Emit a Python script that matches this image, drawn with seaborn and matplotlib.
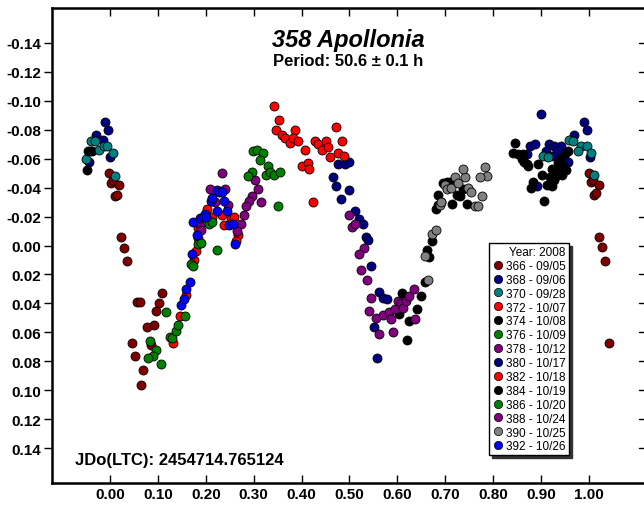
import matplotlib
matplotlib.use("Agg")
import matplotlib.pyplot as plt
from matplotlib.lines import Line2D
import seaborn as sns
import pandas as pd

# Session numbers, observing dates (2008) and marker colours
sessions = ["366", "368", "370", "372", "374", "376", "378",
            "380", "382", "384", "386", "388", "390", "392"]
dates = ["09/05", "09/06", "09/28", "10/07", "10/08", "10/09", "10/12",
         "10/17", "10/18", "10/19", "10/20", "10/24", "10/25", "10/26"]
colors = ["#800000", "#000080", "#008080", "#ff0000", "#000000", "#008000", "#800080",
          "#000080", "#ff0000", "#000000", "#008000", "#800080", "#808080", "#0000ff"]

# Phased photometry (phase, differential magnitude) for each session
phase_366 = [-0.001, 0.002, 0.007, 0.010, 0.015, 0.019, 0.023, 0.029, 0.036,
             0.108, 0.057, 0.062, 0.103, 0.097, 0.078, 0.092, 0.045, 0.086, 0.052, 0.070, 0.065,
             1.000, 1.004, 1.009, 1.020, 1.011, 1.015, 1.022, 1.028, 1.034, 1.042]
mag_366 = [-0.050, -0.043, -0.045, -0.034, -0.035, -0.042, -0.006, 0.002, 0.011,
           0.033, 0.039, 0.039, 0.040, 0.045, 0.056, 0.055, 0.067, 0.069, 0.076, 0.086, 0.096,
           -0.050, -0.044, -0.045, -0.042, -0.035, -0.036, -0.006, 0.001, 0.011, 0.067]

phase_368 = [-0.044, -0.037, -0.030, -0.015, -0.010, -0.005, 0.001,
             0.899, 0.990, 0.995, 0.969, 0.877, 0.888, 0.917, 0.928, 0.941, 0.910,
             0.933, 0.925, 0.957, 1.002, 0.891, 0.870]
mag_368 = [-0.058, -0.065, -0.076, -0.073, -0.085, -0.080, -0.061,
           -0.091, -0.085, -0.080, -0.076, -0.069, -0.070, -0.070, -0.069, -0.069, -0.065,
           -0.065, -0.062, -0.058, -0.061, -0.041, -0.063]

phase_370 = [-0.049, -0.040, -0.031, -0.023, -0.013, -0.006, 0.006, 0.011,
             0.959, 0.967, 0.983, 0.995, 0.978, 1.004, 0.905, 0.914, 0.939, 0.927, 1.010]
mag_370 = [-0.060, -0.072, -0.072, -0.066, -0.069, -0.069, -0.064, -0.048,
           -0.073, -0.072, -0.069, -0.069, -0.065, -0.064, -0.062, -0.061, -0.059, -0.051, -0.049]

phase_372 = [0.132, 0.146, 0.159, 0.175, 0.180, 0.184, 0.183, 0.203, 0.212,
             0.233, 0.238, 0.252, 0.260, 0.268, 0.264]
mag_372 = [0.067, 0.049, 0.034, 0.010, 0.004, -0.005, -0.012, -0.025, -0.020,
           -0.021, -0.014, -0.018, -0.020, -0.007, -0.003]

phase_374 = [-0.047, -0.045, -0.042,
             0.846, 0.842, 0.852, 0.860, 0.864, 0.870, 0.873, 0.863, 0.894, 0.901,
             0.884, 0.880, 0.907, 0.912, 0.922, 0.919, 0.927, 0.929, 0.922, 0.934,
             0.939, 0.938, 0.943, 0.953, 0.946, 0.939, 0.950, 0.957, 0.936]
mag_374 = [-0.052, -0.065, -0.065,
           -0.071, -0.064, -0.063, -0.060, -0.058, -0.056, -0.055, -0.063, -0.056, -0.049,
           -0.044, -0.040, -0.031, -0.042, -0.041, -0.047, -0.045, -0.047, -0.053, -0.053,
           -0.053, -0.050, -0.049, -0.052, -0.055, -0.060, -0.063, -0.065, -0.057]

phase_376 = [0.117, 0.084, 0.097, 0.090, 0.079, 0.106, 0.125, 0.130, 0.137, 0.143,
             0.156, 0.169, 0.173, 0.183, 0.190, 0.206, 0.212, 0.224]
mag_376 = [0.046, 0.066, 0.072, 0.076, 0.078, 0.082, 0.063, 0.064, 0.059, 0.055,
           0.049, 0.013, 0.014, -0.001, -0.002, -0.015, -0.016, 0.003]

phase_378 = [0.233, 0.209, 0.241, 0.303, 0.310, 0.296, 0.291, 0.316, 0.285,
             0.279, 0.273, 0.266, 0.247, 0.219, 0.188, 0.191]
mag_378 = [-0.050, -0.039, -0.039, -0.045, -0.039, -0.034, -0.031, -0.030, -0.027,
           -0.021, -0.015, -0.010, -0.028, -0.030, -0.014, -0.011]

phase_380 = [0.476, 0.490, 0.498, 0.466, 0.472, 0.483, 0.500, 0.511, 0.520,
             0.528, 0.534, 0.539, 0.545, 0.561, 0.570, 0.578, 0.551, 0.557]
mag_380 = [-0.056, -0.056, -0.058, -0.047, -0.041, -0.032, -0.038, -0.024, -0.018,
           -0.015, -0.006, -0.004, 0.014, 0.032, 0.036, 0.037, 0.056, 0.078]

phase_382 = [0.343, 0.353, 0.347, 0.387, 0.360, 0.365, 0.376, 0.383, 0.393, 0.407,
             0.401, 0.414, 0.415, 0.423, 0.429, 0.435, 0.442, 0.451, 0.456, 0.460,
             0.472, 0.485, 0.477, 0.489]
mag_382 = [-0.096, -0.087, -0.080, -0.080, -0.076, -0.074, -0.071, -0.074, -0.072, -0.066,
           -0.055, -0.057, -0.053, -0.030, -0.072, -0.070, -0.066, -0.072, -0.068, -0.061,
           -0.082, -0.072, -0.064, -0.062]

phase_384 = [0.610, 0.603, 0.650, 0.642, 0.625, 0.621, 0.658, 0.661, 0.667, 0.673,
             0.681, 0.692, 0.685, 0.696, 0.703, 0.710, 0.715, 0.724, 0.731, 0.738,
             0.745, 0.685]
mag_384 = [0.033, 0.047, 0.035, 0.044, 0.052, 0.065, 0.025, 0.003, 0.008, -0.003,
           -0.025, -0.030, -0.035, -0.043, -0.044, -0.044, -0.029, -0.035, -0.034, -0.039,
           -0.029, -0.028]

phase_386 = [0.299, 0.308, 0.319, 0.313, 0.329, 0.296, 0.289, 0.325, 0.335, 0.342,
             0.355, 0.350]
mag_386 = [-0.065, -0.066, -0.064, -0.059, -0.055, -0.051, -0.048, -0.049, -0.051, -0.049,
           -0.051, -0.027]

phase_388 = [0.499, 0.505, 0.511, 0.530, 0.519, 0.525, 0.536, 0.546, 0.541, 0.556,
             0.571, 0.582, 0.587, 0.562, 0.591, 0.596, 0.602, 0.608, 0.612, 0.618,
             0.624, 0.634, 0.637]
mag_388 = [-0.021, -0.013, -0.015, 0.002, 0.006, 0.017, 0.024, 0.036, 0.045, 0.050,
           0.048, 0.046, 0.051, 0.061, 0.060, 0.044, 0.038, 0.040, 0.043, 0.038,
           0.035, 0.030, 0.051]

phase_390 = [0.663, 0.658, 0.672, 0.681, 0.689, 0.692, 0.699, 0.704, 0.711, 0.720,
             0.727, 0.741, 0.736, 0.748, 0.754, 0.776, 0.762, 0.769, 0.783, 0.788, 0.772]
mag_390 = [0.024, 0.007, -0.008, -0.011, -0.028, -0.030, -0.042, -0.039, -0.040, -0.047,
           -0.043, -0.047, -0.053, -0.040, -0.037, -0.034, -0.027, -0.027, -0.054, -0.048, -0.047]

phase_392 = [0.148, 0.154, 0.159, 0.167, 0.171, 0.181, 0.174, 0.188, 0.194, 0.198,
             0.200, 0.211, 0.214, 0.223, 0.228, 0.233, 0.238, 0.223, 0.244, 0.248,
             0.256, 0.262]
mag_392 = [0.041, 0.037, 0.030, 0.025, 0.006, -0.007, -0.016, -0.019, -0.020, -0.022,
           -0.020, -0.031, -0.033, -0.038, -0.037, -0.037, -0.031, -0.024, -0.024, -0.014,
           -0.015, -0.001]

phases = [phase_366, phase_368, phase_370, phase_372, phase_374, phase_376, phase_378,
          phase_380, phase_382, phase_384, phase_386, phase_388, phase_390, phase_392]
mags = [mag_366, mag_368, mag_370, mag_372, mag_374, mag_376, mag_378,
        mag_380, mag_382, mag_384, mag_386, mag_388, mag_390, mag_392]

frames = []
for i, (s, p, m) in enumerate(zip(sessions, phases, mags)):
    frames.append(pd.DataFrame({"phase": p, "mag": m, "session": s, "order": i}))
df = pd.concat(frames, ignore_index=True)

sns.set_style("ticks")
plt.rcParams["font.family"] = ["Liberation Sans", "DejaVu Sans"]
plt.rcParams.update({"text.color": "black", "xtick.color": "black",
                     "ytick.color": "black", "axes.edgecolor": "black"})

fig = plt.figure(figsize=(6.44, 5.06), dpi=100)
ax = fig.add_axes([52 / 644, 22 / 506, 593 / 644, 475 / 506])

for i, s in enumerate(sessions):
    sub = df[df["session"] == s]
    sns.scatterplot(data=sub, x="phase", y="mag", color=colors[i], s=42,
                    edgecolor="black", linewidth=0.6, ax=ax, legend=False, zorder=3 + i)

ax.set_xlim(-0.121, 1.117)
ax.set_ylim(0.164, -0.164)
ax.set_xlabel("")
ax.set_ylabel("")

xt = [0.0, 0.1, 0.2, 0.3, 0.4, 0.5, 0.6, 0.7, 0.8, 0.9, 1.0]
yt = [-0.14, -0.12, -0.10, -0.08, -0.06, -0.04, -0.02, 0.0, 0.02, 0.04, 0.06, 0.08, 0.10, 0.12, 0.14]
ax.set_xticks(xt)
ax.set_xticklabels([f"{v:.2f}" for v in xt], fontsize=11, fontweight="bold")
ax.set_yticks(yt)
ax.set_yticklabels([f"{v:.2f}" for v in yt], fontsize=11, fontweight="bold")
ax.tick_params(axis="x", direction="in", length=6, width=1, top=True, pad=3,
               colors="black")
ax.tick_params(axis="y", direction="out", length=6, width=1, right=False, pad=2,
               colors="black")
# inward tick marks on the right side
for v in yt:
    ax.plot([1.0, 0.99], [v, v], transform=ax.get_yaxis_transform(),
            color="black", lw=1, clip_on=False)
for sp in ax.spines.values():
    sp.set_linewidth(1.8)
    sp.set_color("black")

ax.text(0.5, 1 - (40 - 9) / 475, "358 Apollonia", transform=ax.transAxes,
        ha="center", va="center", fontsize=17, fontweight="bold", style="italic",
        color="black")
ax.text(0.5, 1 - (62 - 9) / 475, "Period: 50.6 \u00b1 0.1 h", transform=ax.transAxes,
        ha="center", va="center", fontsize=12, fontweight="bold", color="black")
ax.text((75 - 52) / 593, 1 - (460 - 9) / 475, "JDo(LTC): 2454714.765124",
        transform=ax.transAxes, ha="left", va="center", fontsize=12, fontweight="bold",
        color="black")

handles = [Line2D([], [], marker="o", linestyle="", markersize=6,
                  markerfacecolor=c, markeredgecolor="black", markeredgewidth=0.5)
           for c in colors]
labels = [f"{s} - {d}" for s, d in zip(sessions, dates)]
leg = ax.legend(handles, labels, title="Year: 2008", loc="upper left",
                bbox_to_anchor=(489 / 644, 1 - 244 / 506), bbox_transform=fig.transFigure,
                fontsize=8.5, title_fontsize=8.5, frameon=True, fancybox=False,
                shadow={"color": "0.2", "alpha": 1.0}, borderpad=0.25, labelspacing=0.16,
                handletextpad=0.2, handlelength=1.0, borderaxespad=0, alignment="right")
leg.get_frame().set_edgecolor("black")
leg.get_frame().set_linewidth(1.0)
for t in leg.get_texts():
    t.set_color("black")
leg.get_title().set_color("black")
leg.set_zorder(50)

fig.savefig("out.png", dpi=100)
